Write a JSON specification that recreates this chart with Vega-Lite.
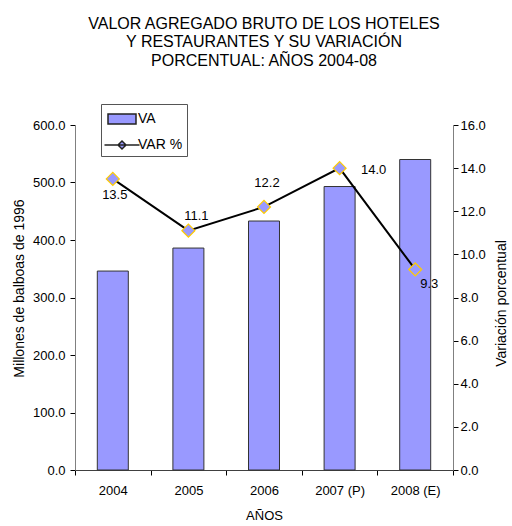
{
  "$schema": "https://vega.github.io/schema/vega-lite/v6.json",
  "width": 378,
  "height": 345,
  "autosize": {"type": "none"},
  "padding": {"left": 75, "top": 125, "right": 59, "bottom": 56},
  "title": {
    "text": ["VALOR AGREGADO BRUTO DE LOS HOTELES", "Y RESTAURANTES Y SU VARIACIÓN", "PORCENTUAL: AÑOS 2004-08"],
    "fontSize": 16,
    "fontWeight": "normal",
    "font": "Liberation Sans",
    "lineHeight": 18.5,
    "anchor": "middle",
    "frame": "group",
    "offset": 35,
    "color": "#000"
  },
  "config": {
    "font": "Liberation Sans",
    "view": {"stroke": null},
    "axis": {
      "labelFont": "Liberation Sans",
      "labelFontSize": 13,
      "labelColor": "#000",
      "titleFont": "Liberation Sans",
      "titleFontSize": 14,
      "titleFontWeight": "normal",
      "titleColor": "#000",
      "tickColor": "#000",
      "tickSize": 5,
      "grid": false
    },
    "legend": {
      "labelFont": "Liberation Sans",
      "labelFontSize": 14,
      "labelColor": "#000"
    }
  },
  "data": {
    "values": [
      {"year": "2004", "va": 346, "var": 13.5},
      {"year": "2005", "va": 386, "var": 11.1},
      {"year": "2006", "va": 433, "var": 12.2},
      {"year": "2007 (P)", "va": 493, "var": 14.0},
      {"year": "2008 (E)", "va": 540, "var": 9.3}
    ]
  },
  "encoding": {
    "x": {
      "field": "year",
      "type": "nominal",
      "sort": null,
      "scale": {"paddingInner": 0, "paddingOuter": 0},
      "axis": {
        "title": "AÑOS",
        "labelAngle": 0,
        "tickBand": "extent",
        "domainColor": "#404040",
        "labelPadding": 9,
        "titlePadding": 12,
        "titleFontSize": 13
      }
    }
  },
  "layer": [
    {
      "mark": {"type": "bar", "stroke": "#333", "strokeWidth": 1, "width": {"band": 0.41}},
      "encoding": {
        "y": {
          "field": "va",
          "type": "quantitative",
          "scale": {"domain": [0, 600], "nice": false},
          "axis": {
            "title": "Millones de balboas de 1996",
            "values": [0, 100, 200, 300, 400, 500, 600],
            "format": ".1f",
            "domainColor": "#808080",
            "labelPadding": 5,
            "titlePadding": 6,
            "titleY": 163
          }
        },
        "fill": {
          "datum": "VA",
          "scale": {"domain": ["VA", "VAR %"], "range": ["#9999FF", "#9999FF"]},
          "legend": {
            "title": null,
            "orient": "none",
            "legendX": 26,
            "legendY": -21,
            "strokeColor": "#555",
            "padding": 4,
            "symbolSize": 400,
            "symbolOffset": 6,
            "symbolStrokeWidth": 1.5,
            "symbolStrokeColor": "#222",
            "symbolType": {"expr": "datum.value === 'VA' ? 'M-1.4,-0.5H1.4V0.5H-1.4Z' : 'M-1.75,0H1.75M0,-0.4L0.4,0L0,0.4L-0.4,0Z'"},
            "rowPadding": 7,
            "labelOffset": 5
          }
        }
      }
    },
    {
      "encoding": {
        "y": {
          "field": "var",
          "type": "quantitative",
          "scale": {"domain": [0, 16], "nice": false},
          "axis": {
            "orient": "right",
            "title": "Variación porcentual",
            "values": [0, 2, 4, 6, 8, 10, 12, 14, 16],
            "format": ".1f",
            "domainColor": "#808080",
            "labelPadding": 2,
            "titlePadding": 9,
            "titleAngle": 270,
            "titleBaseline": "top",
            "titleY": 178
          }
        }
      },
      "layer": [
        {"mark": {"type": "line", "color": "#000", "strokeWidth": 2}},
        {"mark": {"type": "point", "shape": "diamond", "filled": true, "fill": "#9999FF", "stroke": "#FFCC00", "strokeWidth": 1.2, "size": 169, "opacity": 1}},
        {
          "transform": [{"filter": "datum.year === '2004'"}],
          "mark": {"type": "text", "fontSize": 13, "color": "#000", "dx": 2, "dy": 16},
          "encoding": {"text": {"field": "var", "type": "quantitative", "format": ".1f"}}
        },
        {
          "transform": [{"filter": "datum.year === '2005'"}],
          "mark": {"type": "text", "fontSize": 13, "color": "#000", "dx": 8, "dy": -15},
          "encoding": {"text": {"field": "var", "type": "quantitative", "format": ".1f"}}
        },
        {
          "transform": [{"filter": "datum.year === '2006'"}],
          "mark": {"type": "text", "fontSize": 13, "color": "#000", "dx": 3, "dy": -24},
          "encoding": {"text": {"field": "var", "type": "quantitative", "format": ".1f"}}
        },
        {
          "transform": [{"filter": "datum.year === '2007 (P)'"}],
          "mark": {"type": "text", "fontSize": 13, "color": "#000", "dx": 34, "dy": 2},
          "encoding": {"text": {"field": "var", "type": "quantitative", "format": ".1f"}}
        },
        {
          "transform": [{"filter": "datum.year === '2008 (E)'"}],
          "mark": {"type": "text", "fontSize": 13, "color": "#000", "dx": 14, "dy": 15},
          "encoding": {"text": {"field": "var", "type": "quantitative", "format": ".1f"}}
        }
      ]
    }
  ],
  "resolve": {"scale": {"y": "independent"}}
}
